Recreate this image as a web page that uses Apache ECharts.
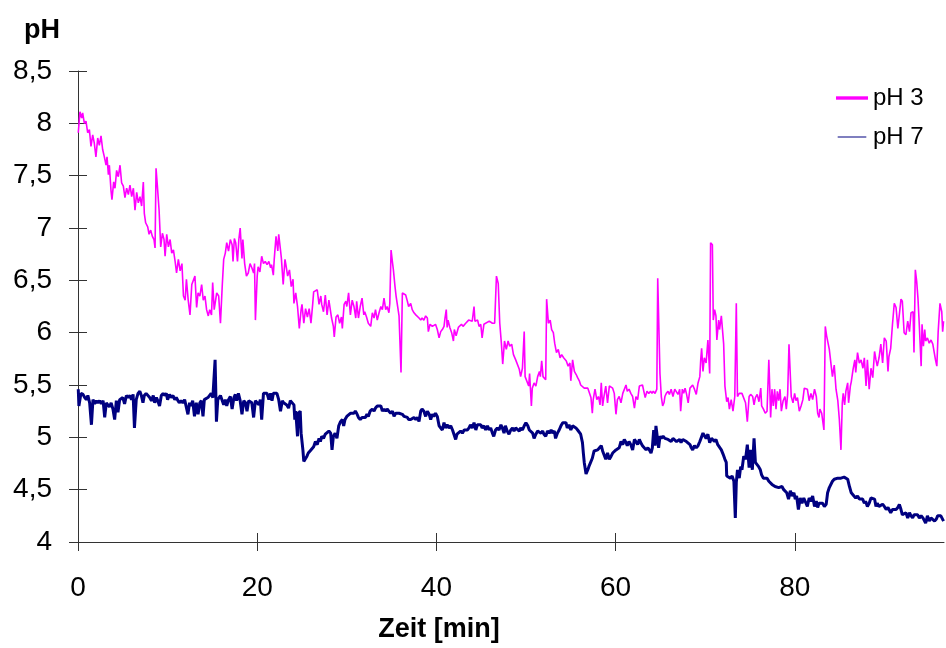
<!DOCTYPE html>
<html>
<head>
<meta charset="utf-8">
<script src="https://cdn.jsdelivr.net/npm/echarts@6/dist/echarts.min.js"></script>
<style>
html,body{margin:0;padding:0;background:#fff;}
#chart{width:946px;height:648px;}
</style>
</head>
<body>
<div id="chart"></div>
<script>
// Series names
var seriesNames = ['pH 3', 'pH 7'];
// Axis tick values
var xTicks = [0, 20, 40, 60, 80];
var yTicks = [4, 4.5, 5, 5.5, 6, 6.5, 7, 7.5, 8, 8.5];

// pH 3 series: time (min) and pH
var time3 = [0.03,0.22,0.41,0.52,0.71,0.89,1.08,1.27,1.45,1.64,1.82,2.0,2.2,2.38,2.57,2.75,2.94,3.13,3.24,3.39,3.5,3.68,3.79,3.98,4.13,4.31,4.5,4.69,4.87,5.06,5.24,5.43,5.62,5.8,5.99,6.18,6.36,6.55,6.73,6.92,7.1,7.29,7.4,7.55,7.78,7.93,8.11,8.3,8.48,8.6,8.71,8.86,9.05,9.23,9.42,9.6,9.72,9.9,10.09,10.28,10.46,10.65,10.84,11.0,11.2,11.4,11.6,11.77,11.96,12.1,12.3,12.5,12.7,12.9,13.05,13.24,13.4,13.6,13.8,13.98,14.17,14.35,14.54,14.7,14.9,15.03,15.2,15.48,15.7,15.9,16.1,16.26,16.44,16.6,16.8,17.0,17.2,17.3,17.45,17.6,17.8,17.95,18.1,18.3,18.4,18.6,18.8,19.0,19.2,19.4,19.6,19.7,19.8,20.0,20.1,20.3,20.5,20.7,20.9,21.1,21.3,21.5,21.6,21.8,21.9,22.1,22.3,22.4,22.6,22.7,22.9,23.1,23.2,23.4,23.6,23.8,24.0,24.1,24.3,24.5,24.7,24.9,25.0,25.2,25.4,25.6,25.8,26.0,26.2,26.3,26.5,26.7,26.9,27.1,27.2,27.4,27.6,27.8,28.0,28.2,28.3,28.5,28.6,28.8,29.0,29.2,29.4,29.5,29.7,29.9,30.0,30.2,30.4,30.6,30.8,31.0,31.1,31.3,31.5,31.7,31.9,32.0,32.2,32.4,32.67,32.85,33.04,33.2,33.4,33.6,33.8,33.97,34.15,34.34,34.5,34.7,34.8,34.94,35.1,35.2,35.38,35.5,35.68,35.83,36.05,36.2,36.4,36.57,36.76,36.9,37.13,37.3,37.5,37.7,37.9,38.06,38.25,38.4,38.6,38.8,38.99,39.1,39.29,39.55,39.7,39.9,40.1,40.3,40.48,40.66,40.85,40.96,41.1,41.2,41.3,41.5,41.7,41.9,42.0,42.2,42.45,42.6,42.8,42.97,43.27,43.6,44.0,44.2,44.3,44.6,44.76,44.95,45.1,45.3,45.5,45.9,46.25,46.5,46.7,46.9,47.07,47.25,47.4,47.6,47.8,48.0,48.18,48.4,48.6,48.85,49.07,49.25,49.4,49.6,49.8,49.9,50.1,50.3,50.4,50.6,50.7,50.9,51.1,51.3,51.5,51.6,51.75,51.9,52.2,52.3,52.5,52.7,52.86,53.05,53.2,53.4,53.6,53.8,53.98,54.2,54.35,54.5,54.7,54.9,55.0,55.2,55.4,55.6,55.76,55.95,56.1,56.3,56.5,56.7,56.9,57.06,57.25,57.4,57.5,57.7,57.9,58.1,58.26,58.4,58.55,58.7,58.9,59.1,59.3,59.5,59.67,59.85,60.04,60.2,60.4,60.6,60.8,60.97,61.16,61.3,61.5,61.7,61.9,62.1,62.27,62.46,62.65,62.8,63.0,63.2,63.3,63.5,63.7,63.9,64.06,64.2,64.4,64.6,64.7,64.84,64.95,65.1,65.25,65.4,65.5,65.66,65.85,66.0,66.2,66.4,66.6,66.8,66.96,67.15,67.26,67.45,67.6,67.75,67.9,68.1,68.3,68.45,68.6,68.8,69.0,69.2,69.4,69.5,69.6,69.75,69.9,70.1,70.3,70.5,70.6,70.8,70.9,71.05,71.2,71.3,71.5,71.6,71.8,71.9,72.06,72.2,72.4,72.55,72.7,72.9,73.1,73.3,73.47,73.6,73.8,73.96,74.1,74.3,74.5,74.7,74.9,75.07,75.3,75.45,75.6,75.8,76.0,76.2,76.3,76.5,76.7,76.9,77.1,77.2,77.3,77.45,77.6,77.75,77.9,78.05,78.2,78.35,78.5,78.7,78.9,79.05,79.2,79.35,79.5,79.6,79.8,79.98,80.13,80.3,80.5,80.7,80.9,81.06,81.2,81.4,81.6,81.8,81.99,82.2,82.4,82.55,82.7,82.8,83.0,83.25,83.4,83.55,83.7,83.85,84.0,84.2,84.4,84.6,84.8,84.97,85.15,85.3,85.4,85.56,85.7,85.9,86.0,86.2,86.3,86.5,86.7,86.8,87.0,87.2,87.4,87.6,87.76,87.95,88.1,88.3,88.5,88.7,88.9,89.06,89.2,89.4,89.6,89.8,89.99,90.2,90.4,90.5,90.7,90.9,91.1,91.3,91.5,91.67,91.85,92.0,92.2,92.4,92.6,92.8,92.97,93.2,93.3,93.45,93.6,93.75,93.9,94.1,94.2,94.35,94.5,94.6,94.8,95.0,95.2,95.4,95.6,95.7,95.85,96.0,96.2,96.4,96.5,96.6];
var ph3 = [7.91,8.11,8.05,8.10,8.00,8.02,7.91,7.94,7.78,7.89,7.81,7.68,7.86,7.79,7.88,7.75,7.68,7.60,7.68,7.51,7.60,7.36,7.27,7.44,7.38,7.55,7.49,7.60,7.43,7.40,7.29,7.38,7.32,7.41,7.30,7.38,7.17,7.34,7.24,7.30,7.21,7.44,7.14,7.05,7.01,6.94,6.98,6.92,6.89,6.81,7.57,7.40,7.17,6.82,6.95,6.89,6.73,6.94,6.82,6.89,6.76,6.79,6.68,6.57,6.70,6.59,6.66,6.35,6.31,6.51,6.31,6.17,6.46,6.45,6.54,6.24,6.38,6.35,6.46,6.31,6.35,6.22,6.16,6.22,6.17,6.48,6.22,6.38,6.35,6.09,6.45,6.70,6.76,6.86,6.78,6.89,6.84,6.68,6.90,6.86,6.68,6.89,7.00,6.71,6.89,6.66,6.54,6.57,6.66,6.62,6.57,6.66,6.12,6.54,6.63,6.58,6.73,6.66,6.68,6.65,6.68,6.62,6.65,6.55,6.70,6.92,6.78,6.94,6.79,6.71,6.46,6.70,6.65,6.54,6.60,6.44,6.51,6.28,6.38,6.25,6.04,6.22,6.27,6.09,6.23,6.15,6.23,6.09,6.28,6.39,6.38,6.41,6.27,6.35,6.27,6.20,6.36,6.17,6.31,6.31,6.14,6.06,5.96,6.15,6.17,6.09,6.15,6.04,6.27,6.30,6.25,6.38,6.17,6.31,6.25,6.14,6.30,6.14,6.25,6.33,6.17,6.20,6.15,6.09,6.06,6.19,6.14,6.22,6.12,6.19,6.25,6.22,6.33,6.22,6.25,6.19,6.28,6.79,6.67,6.60,6.44,6.35,6.36,6.16,5.62,6.38,6.39,6.36,6.30,6.25,6.28,6.22,6.19,6.17,6.17,6.14,6.12,6.14,6.12,6.16,6.14,6.01,6.08,6.06,6.06,6.08,6.03,5.95,6.01,6.03,6.06,6.14,6.22,6.05,6.12,6.05,6.00,5.92,6.03,5.97,6.05,6.06,6.08,6.06,6.09,6.12,6.11,6.25,6.11,6.12,6.06,6.08,5.95,6.08,6.09,6.11,6.09,6.09,6.54,6.47,6.09,5.90,5.70,5.92,5.84,5.92,5.87,5.89,5.79,5.74,5.73,5.65,5.58,5.66,6.01,5.58,5.57,5.49,5.61,5.30,5.47,5.52,5.49,5.58,5.63,5.58,5.73,5.58,5.55,6.32,6.09,6.12,6.03,6.00,5.90,5.81,5.84,5.76,5.79,5.76,5.77,5.73,5.68,5.71,5.54,5.74,5.63,5.60,5.57,5.54,5.50,5.49,5.47,5.46,5.47,5.46,5.38,5.23,5.36,5.46,5.36,5.39,5.31,5.52,5.30,5.39,5.49,5.33,5.49,5.50,5.47,5.42,5.22,5.36,5.39,5.33,5.42,5.41,5.50,5.44,5.46,5.42,5.39,5.28,5.39,5.36,5.49,5.49,5.50,5.49,5.38,5.44,5.42,5.44,5.42,5.44,5.42,5.46,6.52,6.51,5.61,5.39,5.30,5.33,5.39,5.42,5.44,5.41,5.46,5.39,5.46,5.46,5.41,5.46,5.25,5.46,5.42,5.47,5.42,5.33,5.47,5.46,5.50,5.46,5.41,5.52,5.58,5.74,5.85,5.63,5.76,5.71,5.93,5.61,6.86,6.84,6.12,6.22,6.16,5.93,6.12,6.03,6.16,6.17,5.89,5.49,5.34,5.38,5.27,5.36,5.25,5.39,6.28,5.39,5.42,5.41,5.42,5.41,5.33,5.15,5.39,5.41,5.39,5.31,5.38,5.41,5.34,5.47,5.30,5.27,5.23,5.25,5.74,5.49,5.19,5.46,5.30,5.46,5.27,5.44,5.35,5.46,5.25,5.35,5.39,5.27,5.41,5.89,5.90,5.39,5.33,5.42,5.35,5.38,5.25,5.30,5.36,5.47,5.46,5.46,5.35,5.42,5.36,5.46,5.39,5.23,5.19,5.27,5.23,5.07,6.06,5.97,5.98,5.84,5.85,5.58,5.69,5.46,5.35,5.17,4.88,5.33,5.42,5.31,5.44,5.52,5.33,5.49,5.53,5.65,5.74,5.62,5.81,5.71,5.74,5.66,5.76,5.49,5.74,5.46,5.66,5.57,5.82,5.74,5.68,5.76,5.89,5.71,5.95,5.92,5.63,5.77,5.85,6.08,6.28,6.24,6.04,6.03,6.32,6.30,6.00,5.98,6.11,6.01,6.19,6.20,5.81,6.60,6.49,6.32,6.06,5.68,6.08,5.87,6.03,5.92,5.95,5.90,5.93,5.89,5.90,5.74,5.68,6.01,6.28,6.20,6.01,6.11];

// pH 7 series: time (min) and pH
var time7 = [0.03,0.1,0.33,0.56,0.75,0.93,1.1,1.3,1.5,1.67,1.86,2.05,2.2,2.4,2.6,2.8,2.98,3.16,3.35,3.5,3.7,3.9,4.09,4.28,4.46,4.65,4.8,5.0,5.2,5.4,5.6,5.8,5.97,6.15,6.3,6.5,6.7,6.9,7.07,7.25,7.4,7.6,7.8,8.0,8.2,8.4,8.56,8.75,8.9,9.1,9.3,9.5,9.67,9.85,10.0,10.2,10.4,10.6,10.8,10.97,11.16,11.3,11.5,11.7,11.9,12.08,12.27,12.45,12.6,12.8,13.0,13.2,13.4,13.6,13.76,13.95,14.1,14.3,14.5,14.7,14.86,15.05,15.3,15.45,15.6,15.9,16.07,16.26,16.44,16.6,16.8,17.0,17.2,17.4,17.56,17.7,17.9,18.1,18.3,18.5,18.7,18.86,19.05,19.2,19.4,19.6,19.8,19.98,20.2,20.35,20.5,20.7,20.9,21.1,21.3,21.5,21.65,21.8,22.0,22.2,22.4,22.6,22.8,22.95,23.1,23.3,23.5,23.7,23.9,24.1,24.2,24.3,24.5,24.6,24.8,24.9,25.1,25.2,25.4,25.55,25.7,25.9,26.1,26.3,26.5,26.7,26.9,27.05,27.2,27.4,27.6,27.8,28.0,28.2,28.35,28.5,28.7,28.9,29.1,29.3,29.5,29.65,29.8,30.0,30.2,30.4,30.6,30.8,30.95,31.1,31.3,31.5,31.7,31.9,32.07,32.25,32.4,32.6,32.85,33.04,33.2,33.4,33.6,33.8,33.97,34.15,34.34,34.5,34.7,34.9,35.1,35.27,35.46,35.6,35.83,36.0,36.2,36.4,36.57,36.76,36.9,37.13,37.3,37.5,37.7,37.9,38.06,38.25,38.4,38.6,38.8,38.99,39.2,39.36,39.55,39.7,39.9,40.1,40.3,40.48,40.66,40.85,41.0,41.2,41.4,41.6,41.8,41.97,42.15,42.3,42.5,42.7,42.9,43.1,43.27,43.45,43.64,43.8,44.0,44.2,44.4,44.57,44.76,44.95,45.1,45.3,45.5,45.7,45.9,46.06,46.25,46.4,46.6,46.8,46.99,47.2,47.36,47.55,47.7,47.9,48.1,48.3,48.5,48.66,48.85,49.07,49.25,49.4,49.6,49.8,49.99,50.2,50.37,50.55,50.74,50.9,51.1,51.3,51.5,51.67,51.86,52.0,52.2,52.4,52.6,52.8,52.97,53.16,53.3,53.5,53.7,53.9,54.1,54.27,54.46,54.6,54.8,55.0,55.2,55.4,55.57,55.76,55.95,56.1,56.3,56.4,56.5,56.7,56.9,57.06,57.25,57.4,57.6,57.8,58.0,58.2,58.4,58.55,58.7,58.9,59.1,59.3,59.5,59.67,59.85,60.04,60.2,60.4,60.6,60.8,60.97,61.16,61.3,61.5,61.7,61.9,62.1,62.27,62.46,62.65,62.8,63.0,63.2,63.4,63.6,63.76,63.95,64.1,64.25,64.4,64.5,64.7,64.8,64.95,65.1,65.3,65.5,65.66,65.85,66.0,66.2,66.4,66.6,66.8,66.96,67.15,67.3,67.5,67.7,67.9,68.1,68.3,68.45,68.6,68.8,69.0,69.2,69.4,69.6,69.75,69.9,70.1,70.3,70.5,70.7,70.9,71.05,71.2,71.4,71.6,71.8,71.99,72.2,72.35,72.4,72.6,72.8,73.0,73.2,73.36,73.47,73.6,73.8,73.96,74.1,74.3,74.5,74.7,74.9,75.07,75.26,75.45,75.6,75.8,75.96,76.15,76.3,76.5,76.7,76.9,77.1,77.27,77.45,77.6,77.8,78.0,78.2,78.4,78.57,78.76,78.9,79.1,79.3,79.5,79.7,79.9,80.05,80.2,80.4,80.6,80.8,81.0,81.2,81.4,81.6,81.8,81.99,82.2,82.4,82.55,82.7,82.9,83.1,83.3,83.5,83.66,83.85,84.0,84.2,84.4,84.6,84.8,84.97,85.15,85.3,85.5,85.7,85.9,86.1,86.3,86.45,86.6,86.8,87.0,87.2,87.4,87.57,87.76,87.9,88.1,88.3,88.5,88.7,88.9,89.06,89.2,89.4,89.6,89.8,89.99,90.2,90.4,90.5,90.7,90.9,91.1,91.3,91.5,91.67,91.85,92.0,92.2,92.4,92.6,92.8,92.97,93.15,93.3,93.5,93.7,93.9,94.1,94.3,94.45,94.6,94.8,95.0,95.2,95.4,95.6,95.8,95.94,96.1,96.3,96.6];
var ph7 = [5.46,5.30,5.42,5.41,5.38,5.36,5.40,5.33,5.12,5.36,5.32,5.35,5.33,5.35,5.32,5.35,5.19,5.33,5.32,5.29,5.33,5.27,5.17,5.35,5.24,5.36,5.35,5.38,5.32,5.40,5.38,5.40,5.36,5.41,5.09,5.36,5.42,5.44,5.40,5.33,5.40,5.42,5.41,5.38,5.35,5.40,5.33,5.38,5.35,5.30,5.40,5.42,5.40,5.42,5.36,5.41,5.38,5.40,5.36,5.38,5.35,5.33,5.35,5.33,5.36,5.35,5.22,5.33,5.30,5.35,5.20,5.33,5.22,5.33,5.35,5.20,5.36,5.35,5.38,5.38,5.42,5.38,5.74,5.15,5.36,5.40,5.39,5.31,5.36,5.30,5.36,5.39,5.27,5.38,5.41,5.35,5.42,5.35,5.22,5.35,5.33,5.25,5.35,5.36,5.33,5.19,5.35,5.36,5.31,5.36,5.17,5.42,5.41,5.42,5.36,5.42,5.35,5.42,5.41,5.42,5.36,5.25,5.35,5.33,5.33,5.31,5.28,5.35,5.36,5.31,5.17,5.25,5.01,5.23,5.25,5.04,4.88,4.77,4.76,4.82,4.85,4.87,4.88,4.91,4.96,4.93,4.99,4.96,5.01,4.99,5.03,5.04,5.06,5.04,4.88,5.01,5.04,4.99,5.11,5.15,5.17,5.11,5.17,5.20,5.20,5.23,5.22,5.23,5.25,5.23,5.19,5.17,5.19,5.20,5.19,5.22,5.20,5.25,5.27,5.25,5.28,5.30,5.31,5.30,5.25,5.27,5.25,5.27,5.25,5.23,5.25,5.20,5.23,5.23,5.23,5.22,5.22,5.20,5.19,5.19,5.17,5.17,5.17,5.19,5.17,5.19,5.15,5.25,5.27,5.25,5.20,5.25,5.22,5.17,5.22,5.20,5.23,5.20,5.11,5.12,5.07,5.14,5.09,5.12,5.09,5.11,5.07,5.06,4.98,5.03,5.04,5.06,5.04,5.07,5.06,5.07,5.09,5.12,5.09,5.14,5.07,5.12,5.11,5.12,5.09,5.11,5.07,5.11,5.07,5.09,5.04,5.01,5.07,5.09,5.07,5.12,5.09,5.04,5.11,5.06,5.03,5.07,5.09,5.06,5.09,5.09,5.06,5.09,5.07,5.11,5.14,5.11,5.07,5.07,5.04,4.99,5.03,5.06,5.07,5.04,5.06,5.03,5.01,5.06,5.04,5.07,5.04,5.06,4.99,5.04,5.07,5.11,5.14,5.15,5.14,5.09,5.12,5.07,5.11,5.12,5.09,5.07,5.06,5.03,4.95,4.85,4.76,4.65,4.69,4.73,4.74,4.80,4.87,4.88,4.88,4.90,4.92,4.87,4.88,4.79,4.85,4.79,4.82,4.85,4.84,4.88,4.87,4.90,4.96,4.93,4.98,4.95,4.92,4.96,4.93,4.88,4.98,4.96,4.93,4.98,4.95,4.92,4.93,4.88,4.90,4.88,4.85,4.90,5.07,4.92,5.11,5.11,4.90,5.01,4.99,5.01,4.99,4.99,4.98,4.99,4.96,4.99,4.98,4.96,4.95,4.98,4.95,4.98,4.98,4.96,4.95,4.93,4.90,4.88,4.92,4.90,4.92,4.96,4.95,5.04,5.04,4.99,5.03,4.95,4.99,4.98,4.96,4.98,4.93,4.92,4.88,4.84,4.79,4.76,4.63,4.63,4.61,4.63,4.58,4.23,4.57,4.69,4.61,4.72,4.69,4.82,4.79,4.93,4.71,4.88,4.69,4.99,4.76,4.77,4.72,4.69,4.64,4.61,4.61,4.61,4.58,4.57,4.55,4.55,4.53,4.53,4.52,4.52,4.53,4.50,4.49,4.47,4.41,4.49,4.44,4.47,4.41,4.44,4.31,4.42,4.37,4.42,4.38,4.34,4.42,4.39,4.44,4.34,4.39,4.33,4.37,4.36,4.37,4.34,4.36,4.47,4.52,4.53,4.58,4.60,4.60,4.61,4.60,4.61,4.60,4.62,4.61,4.60,4.53,4.47,4.47,4.44,4.42,4.44,4.41,4.42,4.41,4.37,4.39,4.34,4.37,4.42,4.42,4.41,4.34,4.37,4.34,4.33,4.36,4.34,4.31,4.33,4.33,4.28,4.31,4.30,4.31,4.33,4.36,4.31,4.26,4.25,4.28,4.23,4.28,4.25,4.23,4.26,4.25,4.26,4.23,4.25,4.23,4.22,4.18,4.25,4.20,4.23,4.22,4.20,4.22,4.25,4.26,4.25,4.20];

function zip(t, v) {
  var out = [];
  for (var i = 0; i < Math.min(t.length, v.length); i++) out.push([t[i], v[i]]);
  return out;
}

var FONT = '"Liberation Sans", Arial, sans-serif';
var axisColor = '#333333';
var chart = echarts.init(document.getElementById('chart'), null, {renderer: 'canvas'});

var yFmt = function (v) { return String(v).replace('.', ','); };

chart.setOption({
  animation: false,
  backgroundColor: '#ffffff',
  grid: {left: 78, right: 2, top: 71, bottom: 105, containLabel: false},
  legend: {
    orient: 'vertical',
    left: 836,
    top: 86,
    padding: 0,
    itemWidth: 32,
    itemHeight: 3.4,
    itemGap: 15,
    textStyle: {fontFamily: FONT, fontSize: 24, color: '#000'},
    data: [
      {name: seriesNames[0], icon: 'rect'},
      {name: seriesNames[1], icon: 'path://M0 0h0.01v0.01h-0.01zM0 1.3h32v1.2h-32zM0 3.79h0.01v0.01h-0.01z'}
    ]
  },
  xAxis: [{
    type: 'value', min: 0, max: 96.65,
    position: 'bottom',
    name: 'Zeit [min]',
    nameLocation: 'middle',
    nameGap: 74,
    nameTextStyle: {fontFamily: FONT, fontSize: 27, fontWeight: 'bold', color: '#000', padding: [0, 144, 0, 0]},
    axisLine: {show: true, lineStyle: {color: axisColor, width: 1}},
    axisTick: {show: true, inside: false, length: 9, lineStyle: {color: axisColor}, customValues: xTicks},
    axisLabel: {fontFamily: FONT, fontSize: 28, color: '#000', margin: 32, customValues: xTicks},
    splitLine: {show: false}
  }, {
    type: 'value', min: 0, max: 96.65,
    position: 'bottom',
    axisLine: {show: false},
    axisTick: {show: true, inside: true, length: 9, lineStyle: {color: axisColor}, customValues: xTicks},
    axisLabel: {show: false},
    splitLine: {show: false}
  }],
  yAxis: [{
    type: 'value', min: 4, max: 8.5, interval: 0.5,
    position: 'left',
    name: 'pH',
    nameLocation: 'end',
    nameGap: 27,
    nameTextStyle: {fontFamily: FONT, fontSize: 27, fontWeight: 'bold', color: '#000', align: 'right', padding: [0, 18, 0, 0]},
    axisLine: {show: true, lineStyle: {color: axisColor, width: 1}},
    axisTick: {show: true, inside: false, length: 9, lineStyle: {color: axisColor}},
    axisLabel: {fontFamily: FONT, fontSize: 28, color: '#000', margin: 26, formatter: yFmt},
    splitLine: {show: false}
  }, {
    type: 'value', min: 4, max: 8.5, interval: 0.5,
    position: 'left',
    axisLine: {show: false},
    axisTick: {show: true, inside: true, length: 9, lineStyle: {color: axisColor}},
    axisLabel: {show: false},
    splitLine: {show: false}
  }],
  series: [{
    name: seriesNames[0],
    type: 'line',
    xAxisIndex: 0, yAxisIndex: 0,
    symbol: 'none',
    color: '#ff00ff',
    lineStyle: {color: '#ff00ff', width: 1.6},
    data: zip(time3, ph3),
    z: 3
  }, {
    name: seriesNames[1],
    type: 'line',
    xAxisIndex: 0, yAxisIndex: 0,
    symbol: 'none',
    color: '#000080',
    lineStyle: {color: '#000080', width: 3},
    data: zip(time7, ph7),
    z: 2
  }]
});
</script>
</body>
</html>
